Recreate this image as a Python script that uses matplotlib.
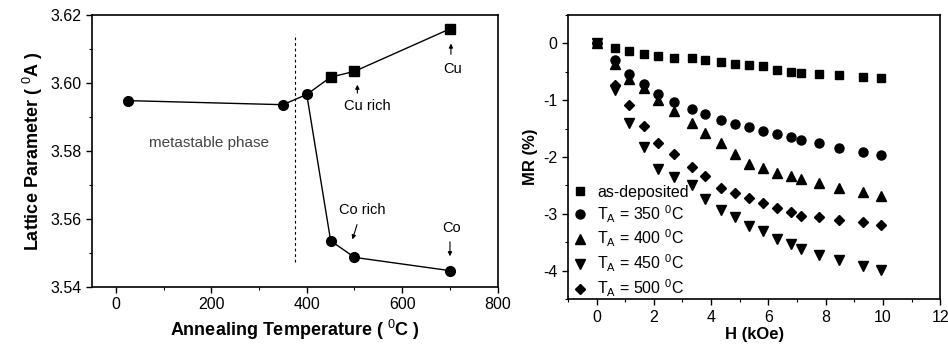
import matplotlib
matplotlib.use("Agg")
import matplotlib.pyplot as plt
from matplotlib.ticker import MultipleLocator

plt.rcParams['font.family'] = ['Liberation Sans', 'DejaVu Sans']
plt.rcParams['mathtext.fontset'] = 'custom'
plt.rcParams['mathtext.rm'] = 'Liberation Sans'
plt.rcParams['mathtext.bf'] = 'Liberation Sans:bold'
plt.rcParams['axes.unicode_minus'] = False

# ---- Left panel data ----
temp_circ = [25, 350, 400, 450, 500, 700]
lat_circ = [3.5948, 3.5936, 3.5966, 3.5536, 3.5487, 3.5448]
temp_sq = [450, 500, 700]
lat_sq = [3.6017, 3.6034, 3.6159]
# line paths
path_main_t = [25, 350, 400]
path_main_l = [3.5948, 3.5936, 3.5966]
path_cu_t = [400, 450, 500, 700]
path_cu_l = [3.5966, 3.6017, 3.6034, 3.6159]
path_co_t = [400, 450, 500, 700]
path_co_l = [3.5966, 3.5536, 3.5487, 3.5448]

# ---- Right panel data ----
H = [0, 0.63, 1.12, 1.67, 2.16, 2.71, 3.32, 3.79, 4.34, 4.84, 5.32, 5.82,
     6.31, 6.80, 7.14, 7.75, 8.45, 9.31, 9.92]
mr_asdep = [0, -0.08, -0.14, -0.18, -0.22, -0.25, -0.26, -0.29, -0.32, -0.36,
            -0.38, -0.40, -0.47, -0.51, -0.53, -0.54, -0.56, -0.59, -0.61]
mr_350 = [0, -0.29, -0.54, -0.72, -0.90, -1.03, -1.15, -1.25, -1.34, -1.42,
          -1.48, -1.54, -1.59, -1.65, -1.70, -1.76, -1.85, -1.91, -1.97]
mr_400 = [0, -0.37, -0.62, -0.79, -0.99, -1.19, -1.40, -1.58, -1.76, -1.94,
          -2.12, -2.20, -2.28, -2.34, -2.39, -2.46, -2.55, -2.62, -2.68]
mr_450 = [0, -0.82, -1.40, -1.82, -2.21, -2.35, -2.50, -2.74, -2.93, -3.06,
          -3.21, -3.31, -3.44, -3.53, -3.62, -3.72, -3.81, -3.92, -3.99]
mr_500 = [0, -0.74, -1.09, -1.46, -1.75, -1.94, -2.18, -2.34, -2.54, -2.63,
          -2.72, -2.81, -2.90, -2.96, -3.03, -3.06, -3.10, -3.15, -3.19]
labels = ['as-deposited', r'T$_\mathrm{A}$ = 350 $^\mathrm{0}$C',
          r'T$_\mathrm{A}$ = 400 $^\mathrm{0}$C',
          r'T$_\mathrm{A}$ = 450 $^\mathrm{0}$C',
          r'T$_\mathrm{A}$ = 500 $^\mathrm{0}$C']

fig = plt.figure(figsize=(9.48, 3.47), dpi=100)
ax1 = fig.add_axes([0.097, 0.173, 0.428, 0.784])
ax2 = fig.add_axes([0.599, 0.138, 0.393, 0.819])

def style(ax):
    for s in ax.spines.values():
        s.set_linewidth(1.2)
    ax.tick_params(which='major', direction='out', length=4, width=1.0,
                   labelsize=11.5, top=False, right=False)
    ax.tick_params(which='minor', direction='out', length=2.5, width=0.8,
                   top=False, right=False)

# Left panel
ax1.plot(path_main_t, path_main_l, color='black', lw=1)
ax1.plot(path_cu_t, path_cu_l, color='black', lw=1)
ax1.plot(path_co_t, path_co_l, color='black', lw=1)
ax1.plot(temp_circ, lat_circ, 'o', color='black', ms=7, zorder=3)
ax1.plot(temp_sq, lat_sq, 's', color='black', ms=7, zorder=3)
ax1.plot([375, 375], [3.5473, 3.6143], color='black', lw=0.8, ls=(0, (2.5, 2.5)))
ax1.set_xlim(-50, 800)
ax1.set_ylim(3.54, 3.62)
ax1.xaxis.set_major_locator(MultipleLocator(200))
ax1.xaxis.set_minor_locator(MultipleLocator(100))
ax1.yaxis.set_major_locator(MultipleLocator(0.02))
ax1.yaxis.set_minor_locator(MultipleLocator(0.01))
ax1.yaxis.set_major_formatter(matplotlib.ticker.FormatStrFormatter('%.2f'))
style(ax1)
ax1.set_xlabel(r'Annealing Temperature ( $^\mathrm{0}$C )', fontsize=13,
               fontweight='bold')
ax1.set_ylabel(r'Lattice Parameter ( $^\mathrm{0}$A )', fontsize=13,
               fontweight='bold')
ax1.text(196, 3.5824, 'metastable phase', fontsize=11, color='#444444',
         ha='center', va='center')
ax1.text(526, 3.5932, 'Cu rich', fontsize=10.5, ha='center', va='center')
ax1.text(705, 3.6041, 'Cu', fontsize=10.5, ha='center', va='center')
ax1.text(516, 3.5627, 'Co rich', fontsize=10.5, ha='center', va='center')
ax1.text(703, 3.5573, 'Co', fontsize=10.5, ha='center', va='center')
arr = dict(arrowstyle='-|>', color='black', lw=0.8, mutation_scale=6)
ax1.annotate('', xy=(506, 3.6003), xytext=(506, 3.5962), arrowprops=arr)
ax1.annotate('', xy=(702, 3.6124), xytext=(702, 3.6076), arrowprops=arr)
ax1.annotate('', xy=(494, 3.5532), xytext=(507, 3.5591), arrowprops=arr)
ax1.annotate('', xy=(700, 3.5482), xytext=(700, 3.5541), arrowprops=arr)

# Right panel
ms = 6
ax2.plot(H, mr_asdep, 's', color='black', ms=ms, label=labels[0])
ax2.plot(H, mr_350, 'o', color='black', ms=ms + 0.5, label=labels[1])
ax2.plot(H, mr_400, '^', color='black', ms=ms + 0.5, label=labels[2])
ax2.plot(H, mr_450, 'v', color='black', ms=ms + 0.5, label=labels[3])
ax2.plot(H, mr_500, 'D', color='black', ms=ms - 0.5, label=labels[4])
ax2.set_xlim(-1, 12)
ax2.set_ylim(-4.5, 0.5)
ax2.xaxis.set_major_locator(MultipleLocator(2))
ax2.xaxis.set_minor_locator(MultipleLocator(1))
ax2.yaxis.set_major_locator(MultipleLocator(1))
ax2.yaxis.set_minor_locator(MultipleLocator(0.5))
style(ax2)
ax2.set_xlabel('H (kOe)', fontsize=12, fontweight='bold', labelpad=2)
ax2.set_ylabel('MR (%)', fontsize=12, fontweight='bold')
ax2.legend(loc='lower left', bbox_to_anchor=(-0.02, -0.04), frameon=False,
           fontsize=11.5, handlelength=1.0, handletextpad=0.6,
           labelspacing=0.22, borderaxespad=0.3)

fig.savefig('out.png', dpi=100)
